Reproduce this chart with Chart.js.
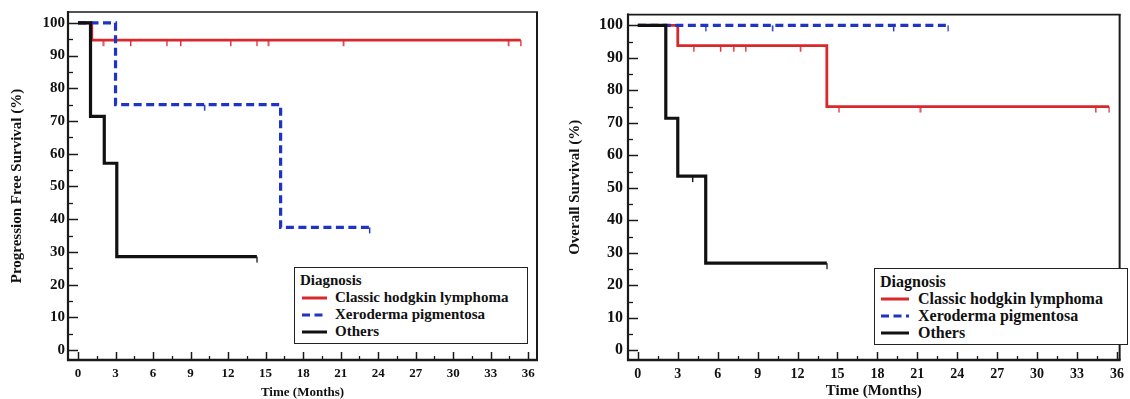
<!DOCTYPE html>
<html>
<head>
<meta charset="utf-8">
<script src="https://cdn.jsdelivr.net/npm/chart.js@4.4.1/dist/chart.umd.min.js"></script>
<style>
  html, body { margin: 0; padding: 0; background: #fff; }
  #wrap { position: relative; width: 1130px; height: 399px; overflow: hidden; font-family: "Liberation Serif", "Times New Roman", serif; font-weight: bold; color: #111; }
  .panel { position: absolute; top: 0; width: 565px; height: 399px; }
  .legend { position: absolute; border: 1.5px solid #222; background: #fff; box-sizing: border-box; padding: 4px 5px; }
  .legend .row { display: flex; align-items: center; height: 17px; line-height: 17px; white-space: nowrap; }
  .legend svg { flex: none; }
</style>
</head>
<body>
<div id="wrap">
  <div class="panel" style="left:0"><canvas id="c1" width="565" height="399"></canvas></div>
  <div class="panel" style="left:565px"><canvas id="c2" width="565" height="399"></canvas></div>
  <div class="legend" id="leg1" style="left:294px;top:267px;width:234px;height:77px;font-size:15px"></div>
  <div class="legend" id="leg2" style="left:874px;top:268px;width:254px;height:77px;font-size:16px"></div>
</div>
<script>
// ---------- data ----------
const legendTitle = 'Diagnosis';
const seriesNames = ['Classic hodgkin lymphoma', 'Xeroderma pigmentosa', 'Others'];
const xTicks = [0, 3, 6, 9, 12, 15, 18, 21, 24, 27, 30, 33, 36];
const yTicks = [0, 10, 20, 30, 40, 50, 60, 70, 80, 90, 100];
const xTitle = 'Time (Months)';
const pfsTitle = 'Progression Free Survival (%)';
const osTitle = 'Overall Survival (%)';

// Progression free survival (left)
const pfsHodgkinTimes = [0, 1.1, 35.4];
const pfsHodgkinSurv  = [100, 94.7, 94.7];
const pfsHodgkinCensor = [2.0, 4.2, 7.1, 8.2, 12.2, 14.3, 15.2, 21.2, 34.4, 35.4];
const pfsXpTimes = [0, 3.0, 16.2, 23.3];
const pfsXpSurv  = [100, 75, 37.5, 37.5];
const pfsXpCensor = [10.1, 23.3];
const pfsOtherTimes = [0, 1.0, 2.1, 3.1, 14.3];
const pfsOtherSurv  = [100, 71.4, 57.1, 28.6, 28.6];
const pfsOtherCensor = [14.3];

// Overall survival (right)
const osHodgkinTimes = [0, 3.0, 14.2, 35.4];
const osHodgkinSurv  = [100, 93.75, 75, 75];
const osHodgkinCensor = [4.2, 6.2, 7.2, 8.1, 12.2, 15.1, 21.2, 34.4, 35.4];
const osXpTimes = [0, 23.3];
const osXpSurv  = [100, 100];
const osXpCensor = [5.1, 10.1, 19.2, 23.3];
const osOtherTimes = [0, 2.1, 3.0, 5.1, 14.2];
const osOtherSurv  = [100, 71.4, 53.6, 26.8, 26.8];
const osOtherCensor = [4.1, 14.2];

// ---------- styles ----------
const colors = ['#d8282b', '#1f33c4', '#111111'];
const widths = [2.8, 3.2, 3.2];
const dashes = [[], [8, 4.5], []];
const FONT = '"Liberation Serif", "Times New Roman", serif';

function pts(times, surv) { return times.map((t, i) => ({ x: t, y: surv[i] })); }
function survAt(times, surv, t) {
  let v = surv[0];
  for (let i = 0; i < times.length; i++) { if (times[i] <= t + 1e-9) v = surv[i]; }
  return v;
}
// censor mark: a small tick hanging below the curve
function censorMark(color) {
  const c = document.createElement('canvas');
  c.width = 3; c.height = 14;
  const g = c.getContext('2d');
  g.fillStyle = color;
  g.fillRect(1, 7, 1.4, 6);
  return c;
}

function buildDatasets(groups) {
  const ds = [];
  groups.forEach((g, i) => {
    ds.push({
      type: 'line', label: seriesNames[i], data: pts(g.times, g.surv),
      stepped: 'before', borderColor: colors[i], borderWidth: widths[i], borderDash: dashes[i],
      pointRadius: 0, fill: false, order: 10 - i * 2, borderCapStyle: 'butt', borderJoinStyle: 'miter'
    });
    ds.push({
      type: 'scatter', label: seriesNames[i] + ' censored',
      data: g.censor.map(t => ({ x: t, y: survAt(g.times, g.surv, t) })),
      pointStyle: censorMark(colors[i]), pointRadius: 3, borderWidth: 0,
      showLine: false, order: 9 - i * 2
    });
  });
  return ds;
}

function midpoints(arr) { return arr.slice(1).map((v, i) => (v + arr[i]) / 2); }
const xMinor = midpoints(xTicks);
const yMinor = midpoints(yTicks);

const framePlugin = {
  id: 'kmFrame',
  afterDraw(chart) {
    const { ctx, chartArea: a, scales: { x, y } } = chart;
    ctx.save();
    ctx.strokeStyle = '#1a1a1a';
    const seg = (x1, y1, x2, y2, w) => { ctx.lineWidth = w; ctx.beginPath(); ctx.moveTo(x1, y1); ctx.lineTo(x2, y2); ctx.stroke(); };
    xTicks.forEach(v => { const p = Math.round(x.getPixelForValue(v)) + 0.5; seg(p, a.bottom, p, a.bottom - 8, 1.5); });
    xMinor.forEach(v => { const p = Math.round(x.getPixelForValue(v)) + 0.5; seg(p, a.bottom, p, a.bottom - 4, 1.3); });
    yTicks.forEach(v => { const p = Math.round(y.getPixelForValue(v)) + 0.5; seg(a.left, p, a.left + 10, p, 1.5); });
    yMinor.forEach(v => { const p = Math.round(y.getPixelForValue(v)) + 0.5; seg(a.left, p, a.left + 5, p, 1.3); });
    seg(a.left - 1, a.top, a.right + 1, a.top, 1.6);
    seg(a.right, a.top, a.right, a.bottom, 2);
    seg(a.left, a.top - 1, a.left, a.bottom + 1, 2.2);
    seg(a.left - 1, a.bottom, a.right + 1, a.bottom, 2.6);
    ctx.restore();
  }
};

function makeChart(id, groups, cfg) {
  return new Chart(document.getElementById(id), {
    data: { datasets: buildDatasets(groups) },
    plugins: [framePlugin],
    options: {
      responsive: false, animation: false, events: [],
      layout: { padding: { left: 0, top: 12, right: cfg.padRight, bottom: 0 } },
      plugins: { legend: { display: false }, tooltip: { enabled: false } },
      scales: {
        x: {
          type: 'linear', min: cfg.xMin, max: cfg.xMax,
          afterBuildTicks: s => { s.ticks = xTicks.map(v => ({ value: v })); },
          afterFit: s => { s.height = 39; },
          grid: { display: false, drawTicks: false }, border: { display: false },
          ticks: { color: '#111', padding: 6, maxRotation: 0, autoSkip: false, font: { family: FONT, weight: 'bold', size: cfg.xTickSize } },
          title: { display: true, text: xTitle, color: '#111', padding: { top: 0, bottom: 0 }, font: { family: FONT, weight: 'bold', size: cfg.xTitleSize, lineHeight: 1.0 } }
        },
        y: {
          type: 'linear', min: -3.0, max: 103.3,
          afterBuildTicks: s => { s.ticks = yTicks.map(v => ({ value: v })); },
          afterFit: s => { s.width = cfg.yWidth; },
          grid: { display: false, drawTicks: false }, border: { display: false },
          ticks: { color: '#111', padding: cfg.yTickPad, autoSkip: false, font: { family: FONT, weight: 'bold', size: cfg.yTickSize } },
          title: { display: true, text: cfg.yTitle, color: '#111', padding: { top: cfg.yTitlePad, bottom: 0 }, font: { family: FONT, weight: 'bold', size: 15, lineHeight: 1.2 } }
        }
      }
    }
  });
}

makeChart('c1', [
  { times: pfsHodgkinTimes, surv: pfsHodgkinSurv, censor: pfsHodgkinCensor },
  { times: pfsXpTimes, surv: pfsXpSurv, censor: pfsXpCensor },
  { times: pfsOtherTimes, surv: pfsOtherSurv, censor: pfsOtherCensor }
], { padRight: 28, xMin: -0.8, xMax: 36.7, yWidth: 68, yTickPad: 3, yTitle: pfsTitle, yTitlePad: 8, xTickSize: 13, yTickSize: 15, xTitleSize: 13 });

makeChart('c2', [
  { times: osHodgkinTimes, surv: osHodgkinSurv, censor: osHodgkinCensor },
  { times: osXpTimes, surv: osXpSurv, censor: osXpCensor },
  { times: osOtherTimes, surv: osOtherSurv, censor: osOtherCensor }
], { padRight: 2, xMin: -0.74, xMax: 36.2, yWidth: 63, yTickPad: 5, yTitle: osTitle, yTitlePad: 1, xTickSize: 14, yTickSize: 16, xTitleSize: 15 });

function buildLegend(id, sampleLen, indent, gap) {
  const el = document.getElementById(id);
  const t = document.createElement('div'); t.className = 'row'; t.textContent = legendTitle; el.appendChild(t);
  seriesNames.forEach((name, i) => {
    const r = document.createElement('div'); r.className = 'row';
    const dash = dashes[i].length ? dashes[i].join(' ') : 'none';
    r.innerHTML = '<svg width="' + (sampleLen + indent) + '" height="6" style="margin-right:' + gap + 'px"><line x1="' + indent + '" y1="3" x2="' + (sampleLen + indent) + '" y2="3" stroke="' + colors[i] + '" stroke-width="3" stroke-dasharray="' + dash + '"/></svg>';
    const s = document.createElement('span'); s.textContent = name; r.appendChild(s);
    el.appendChild(r);
  });
}
buildLegend('leg1', 25, 2, 8);
buildLegend('leg2', 28, 1, 9);
</script>
</body>
</html>
